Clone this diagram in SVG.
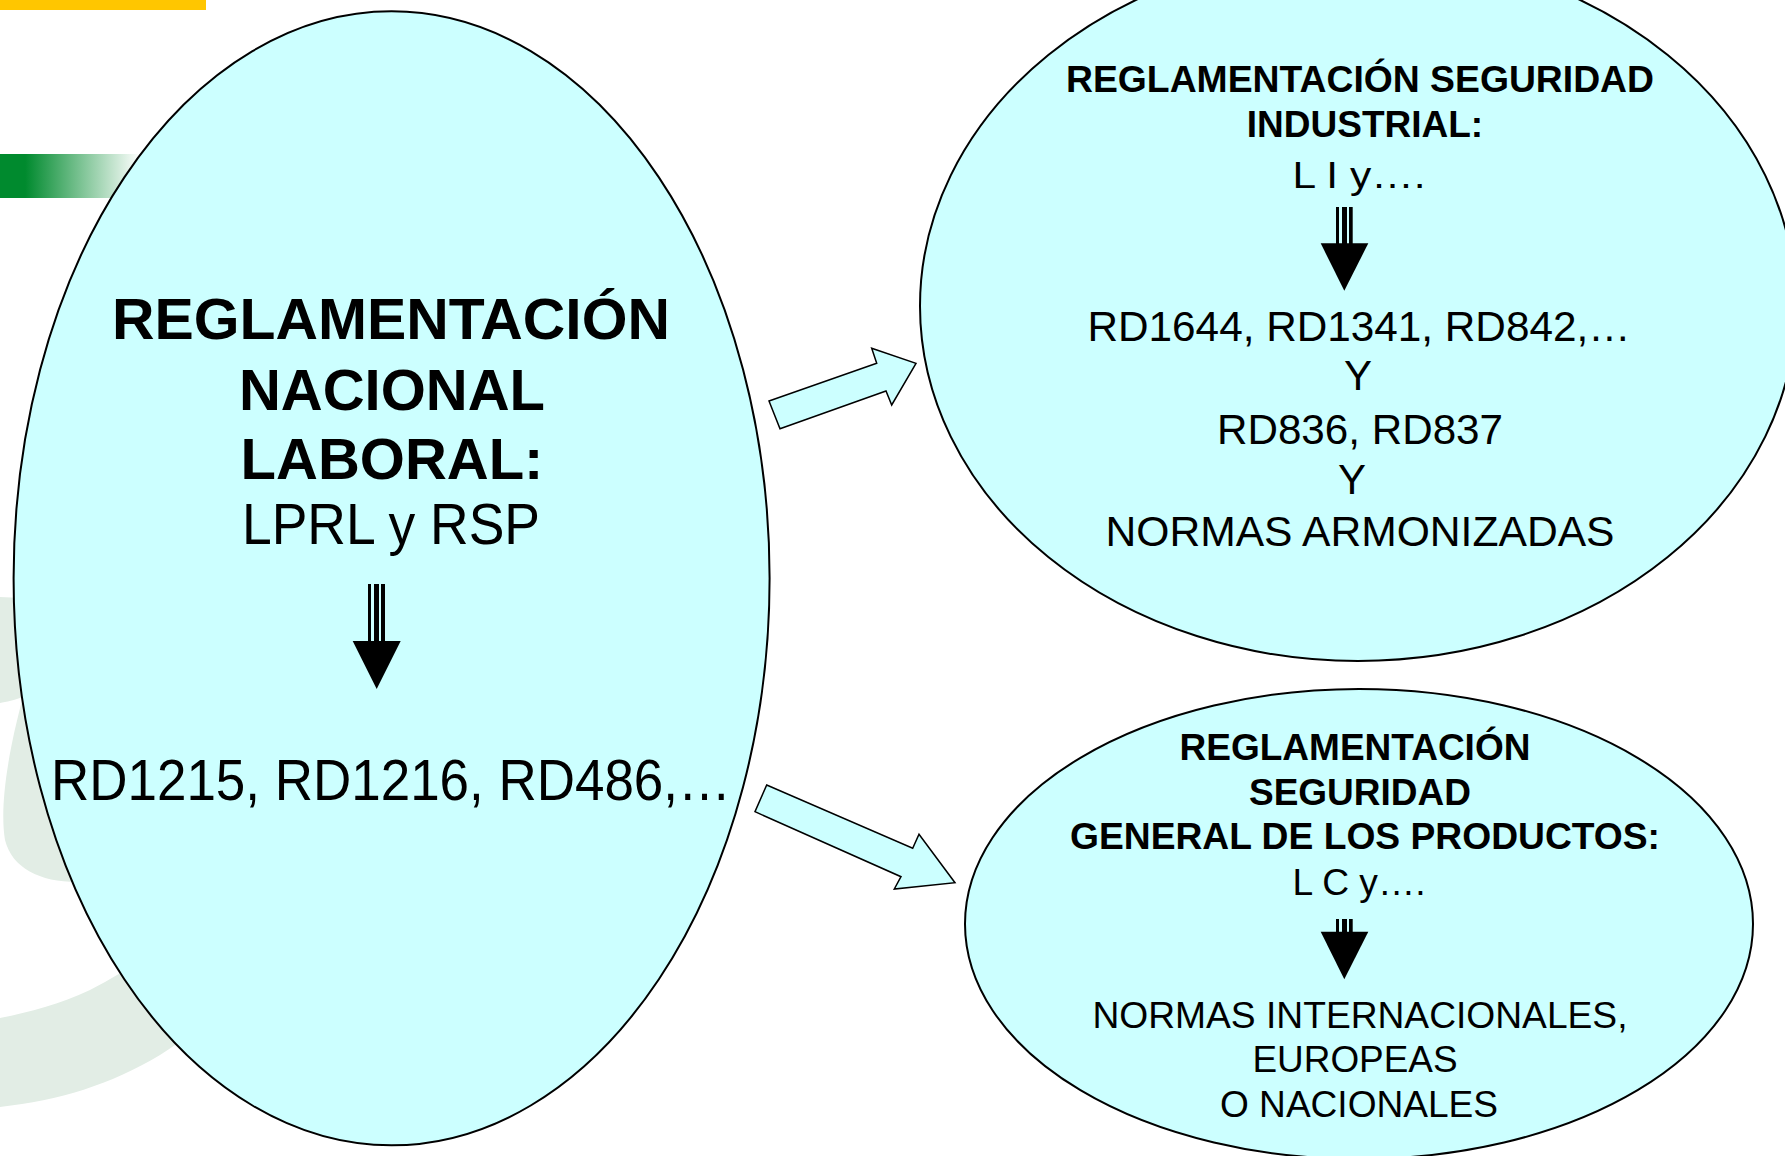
<svg xmlns="http://www.w3.org/2000/svg" width="1785" height="1156" viewBox="0 0 1785 1156">
<defs>
<linearGradient id="gbar" x1="0" y1="0" x2="140" y2="0" gradientUnits="userSpaceOnUse">
<stop offset="0" stop-color="#008a2e"/>
<stop offset="0.18" stop-color="#008a2e"/>
<stop offset="1" stop-color="#ffffff"/>
</linearGradient>
<style>
.ell{fill:#ccffff;stroke:#000;stroke-width:2}
.blk{fill:#ccffff;stroke:#000;stroke-width:1.5;stroke-linejoin:miter}
.t{font-family:"Liberation Sans",Arial,sans-serif;fill:#000;text-anchor:middle}
.b{font-weight:bold}
.ar{fill:#000}
.wm{fill:#e2ede5}
</style>
</defs>
<rect width="1785" height="1156" fill="#ffffff"/>
<g id="background">
<rect x="0" y="0" width="206" height="10" fill="#ffc600"/>
<rect x="0" y="154" width="140" height="44" fill="url(#gbar)"/>
<path class="wm" d="M0,597 C60,600 120,605 200,610 L200,882 L77,882 C40,882 12,868 5,840 C0,810 6,760 23,697 C15,700 6,702 0,703 Z"/>
<path class="wm" d="M0,1018 C30,1012 60,1004 90,990 C130,970 170,940 210,900 L260,960 C230,1000 200,1030 160,1055 C110,1085 60,1100 0,1107 Z"/>
</g>
<g id="connectors">
<polygon class="blk" points="769,401 876.7,363.3 871.7,348.3 916,363.3 891.7,405 886,391 780,428.7"/>
<polygon class="blk" points="766.7,785 912.7,848.3 919,834.3 955,882.7 894.3,889 901,876.7 755,811.7"/>
</g>
<g id="node-laboral">
<ellipse class="ell" cx="391.6" cy="578.3" rx="378" ry="567"/>
<text class="t b" x="391" y="339" font-size="58" textLength="558" lengthAdjust="spacingAndGlyphs">REGLAMENTACIÓN</text>
<text class="t b" x="392" y="410" font-size="58">NACIONAL</text>
<text class="t b" x="392" y="479" font-size="58">LABORAL:</text>
<text class="t" x="391" y="544" font-size="58" textLength="298" lengthAdjust="spacingAndGlyphs">LPRL y RSP</text>
<g class="ar">
<rect x="368" y="584" width="3" height="58"/>
<rect x="374" y="584" width="5" height="58"/>
<rect x="381" y="584" width="4" height="58"/>
<polygon points="352.7,641 400.7,641 376.7,689"/>
</g>
<text class="t" x="391" y="800" font-size="58" textLength="680" lengthAdjust="spacingAndGlyphs">RD1215, RD1216, RD486,…</text>
</g>
<g id="node-industrial">
<ellipse class="ell" cx="1358" cy="306" rx="438" ry="355"/>
<text class="t b" x="1360" y="92" font-size="37" textLength="588" lengthAdjust="spacingAndGlyphs">REGLAMENTACIÓN SEGURIDAD</text>
<text class="t b" x="1365" y="137" font-size="37">INDUSTRIAL:</text>
<text class="t" x="1359" y="188" font-size="37" textLength="133" lengthAdjust="spacingAndGlyphs">L I y….</text>
<g class="ar">
<rect x="1336" y="207" width="3" height="37"/>
<rect x="1342" y="207" width="5" height="37"/>
<rect x="1349" y="207" width="3.7" height="37"/>
<polygon points="1320.7,243.3 1368.3,243.3 1344.3,290.7"/>
</g>
<text class="t" x="1359" y="341" font-size="42" textLength="543" lengthAdjust="spacingAndGlyphs">RD1644, RD1341, RD842,…</text>
<text class="t" x="1358" y="390" font-size="42">Y</text>
<text class="t" x="1360" y="444" font-size="42" textLength="286" lengthAdjust="spacingAndGlyphs">RD836, RD837</text>
<text class="t" x="1352" y="494" font-size="42">Y</text>
<text class="t" x="1360" y="546" font-size="42" textLength="509" lengthAdjust="spacingAndGlyphs">NORMAS ARMONIZADAS</text>
</g>
<g id="node-productos">
<ellipse class="ell" cx="1359" cy="924" rx="394" ry="235"/>
<text class="t b" x="1355" y="760" font-size="37">REGLAMENTACIÓN</text>
<text class="t b" x="1360" y="805" font-size="37">SEGURIDAD</text>
<text class="t b" x="1365" y="849" font-size="37" textLength="590" lengthAdjust="spacingAndGlyphs">GENERAL DE LOS PRODUCTOS:</text>
<text class="t" x="1359" y="895" font-size="37" textLength="133" lengthAdjust="spacingAndGlyphs">L C y….</text>
<g class="ar">
<rect x="1336" y="919" width="3" height="14"/>
<rect x="1342" y="919" width="5" height="14"/>
<rect x="1349" y="919" width="3.7" height="14"/>
<polygon points="1320.7,931.7 1368.3,931.7 1344.3,979.3"/>
</g>
<text class="t" x="1360" y="1028" font-size="37" textLength="535" lengthAdjust="spacingAndGlyphs">NORMAS INTERNACIONALES,</text>
<text class="t" x="1355" y="1072" font-size="37" textLength="205" lengthAdjust="spacingAndGlyphs">EUROPEAS</text>
<text class="t" x="1359" y="1117" font-size="37" textLength="278" lengthAdjust="spacingAndGlyphs">O NACIONALES</text>
</g>
</svg>
